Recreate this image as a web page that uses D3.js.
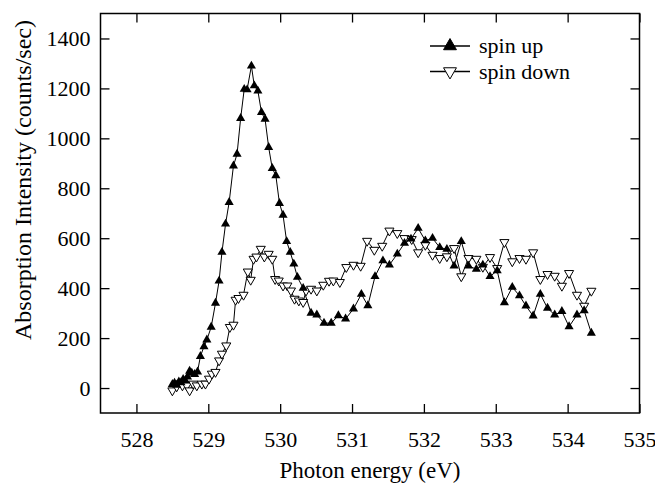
<!DOCTYPE html>
<html>
<head>
<meta charset="utf-8">
<script src="https://cdn.jsdelivr.net/npm/d3@7"></script>
<style>
  html, body { margin: 0; padding: 0; background: #fff; }
  svg { display: block; }
  text { font-family: "Liberation Serif", "Times New Roman", serif; fill: #000; }
</style>
</head>
<body>
<svg id="chart" width="655" height="487"></svg>
<script>
// ---- Data ----
const upEnergy = [528.50,528.53,528.56,528.59,528.62,528.65,528.68,528.71,528.74,528.77,528.81,528.85,528.89,528.94,528.98,529.04,529.10,529.15,529.19,529.24,529.29,529.35,529.40,529.45,529.50,529.54,529.60,529.64,529.69,529.74,529.79,529.84,529.89,529.94,529.99,530.04,530.09,530.14,530.19,530.24,530.32,530.43,530.51,530.61,530.71,530.81,530.91,531.02,531.13,531.22,531.32,531.43,531.52,531.63,531.73,531.82,531.92,532.02,532.12,532.22,532.32,532.42,532.52,532.62,532.73,532.82,532.92,533.02,533.12,533.23,533.33,533.42,533.52,533.62,533.72,533.82,533.92,534.02,534.13,534.23,534.33];
const upValue  = [15,20,12,25,22,35,30,45,68,60,55,65,127,166,193,244,340,429,544,657,744,890,937,1080,1197,1195,1290,1211,1190,1104,1077,964,880,851,740,693,587,544,497,444,400,300,293,260,260,290,277,317,376,330,447,510,493,537,580,597,640,590,600,563,556,489,587,489,476,493,447,470,342,404,370,329,289,376,320,293,307,246,293,310,220];

const downEnergy = [528.50,528.56,528.64,528.70,528.74,528.79,528.84,528.91,528.96,529.01,529.05,529.10,529.15,529.19,529.25,529.30,529.35,529.38,529.42,529.49,529.55,529.59,529.63,529.67,529.73,529.78,529.84,529.89,529.93,529.98,530.04,530.10,530.15,530.20,530.26,530.32,530.36,530.43,530.51,530.60,530.68,530.74,530.83,530.92,531.02,531.12,531.21,531.31,531.42,531.52,531.63,531.73,531.83,531.92,532.02,532.12,532.22,532.32,532.42,532.52,532.62,532.73,532.82,532.92,533.02,533.12,533.23,533.33,533.42,533.52,533.62,533.72,533.82,533.92,534.02,534.13,534.23,534.33];
const downValue  = [-10,6,10,10,-10,17,10,17,17,37,57,64,110,137,170,244,253,353,360,373,466,433,517,526,557,526,537,517,436,430,410,410,390,357,350,344,390,397,390,413,429,430,424,484,493,489,589,553,569,630,620,600,596,543,573,533,520,527,560,447,520,517,485,524,480,584,507,520,517,543,436,456,449,409,460,373,329,389];

const xTicks = [528,529,530,531,532,533,534,535];
const yTicks = [0,200,400,600,800,1000,1200,1400];
const seriesNames = ["spin up", "spin down"];
const xTitle = "Photon energy (eV)";
const yTitle = "Absorption Intensity (counts/sec)";

// ---- Layout ----
const svg = d3.select("#chart");
const L = 100.5, R = 639.5, T = 13.5, B = 413;
const x = d3.scaleLinear().domain([527.5, 535]).range([L, R]);
const y = d3.scaleLinear().domain([-100, 1500]).range([B, T]);
const FS = 22;

// axes
const gx = svg.append("g").attr("transform", `translate(0,${B})`)
  .call(d3.axisBottom(x).tickValues(xTicks).tickFormat(d3.format("d")).tickSizeInner(-9).tickSizeOuter(0).tickPadding(18));
const gxt = svg.append("g").attr("transform", `translate(0,${T})`)
  .call(d3.axisTop(x).tickValues(xTicks).tickFormat("").tickSizeInner(-9).tickSizeOuter(0));
const gy = svg.append("g").attr("transform", `translate(${L},0)`)
  .call(d3.axisLeft(y).tickValues(yTicks).tickFormat(d3.format("d")).tickSizeInner(-9).tickSizeOuter(0).tickPadding(10));
const gyr = svg.append("g").attr("transform", `translate(${R},0)`)
  .call(d3.axisRight(y).tickValues(yTicks).tickFormat("").tickSizeInner(-9).tickSizeOuter(0));
[gx, gxt, gy, gyr].forEach(g => {
  g.select(".domain").remove();
  g.selectAll(".tick line").attr("stroke", "#000").attr("stroke-width", 1.3);
  g.selectAll("text").attr("font-size", FS).attr("fill", "#000");
});

// frame
svg.append("rect").attr("x", L).attr("y", T).attr("width", R - L).attr("height", B - T)
  .attr("fill", "none").attr("stroke", "#000").attr("stroke-width", 1.5);

// titles
svg.append("text").attr("x", (L + R) / 2).attr("y", 478).attr("text-anchor", "middle")
  .attr("font-size", 23).text(xTitle);
svg.append("text").attr("transform", `translate(31,180) rotate(-90)`).attr("text-anchor", "middle")
  .attr("font-size", 24).text(yTitle);

// series
const upData = upEnergy.map((e, i) => [e, upValue[i]]);
const downData = downEnergy.map((e, i) => [e, downValue[i]]);
const line = d3.line().x(d => x(d[0])).y(d => y(d[1]));
const tri = d3.symbol().type(d3.symbolTriangle).size(36);

svg.append("path").datum(downData).attr("d", line).attr("fill", "none").attr("stroke", "#000").attr("stroke-width", 1);
svg.append("path").datum(upData).attr("d", line).attr("fill", "none").attr("stroke", "#000").attr("stroke-width", 1);

svg.append("g").selectAll("path").data(downData).join("path")
  .attr("d", tri).attr("transform", d => `translate(${x(d[0])},${y(d[1])}) rotate(180)`)
  .attr("fill", "#fff").attr("stroke", "#000").attr("stroke-width", 1);
svg.append("g").selectAll("path").data(upData).join("path")
  .attr("d", tri).attr("transform", d => `translate(${x(d[0])},${y(d[1])})`)
  .attr("fill", "#000");

// legend
const legTri = d3.symbol().type(d3.symbolTriangle).size(72);
const leg = svg.append("g");
[46, 71.5].forEach((ly, i) => {
  leg.append("line").attr("x1", 430).attr("x2", 470).attr("y1", ly).attr("y2", ly).attr("stroke", "#000").attr("stroke-width", 1.3);
  leg.append("path").attr("d", legTri)
    .attr("transform", i === 0 ? `translate(450,${ly})` : `translate(450,${ly}) rotate(180)`)
    .attr("fill", i === 0 ? "#000" : "#fff").attr("stroke", "#000").attr("stroke-width", 1);
  leg.append("text").attr("x", 479).attr("y", ly + 7).attr("font-size", FS).text(seriesNames[i]);
});
</script>
</body>
</html>
